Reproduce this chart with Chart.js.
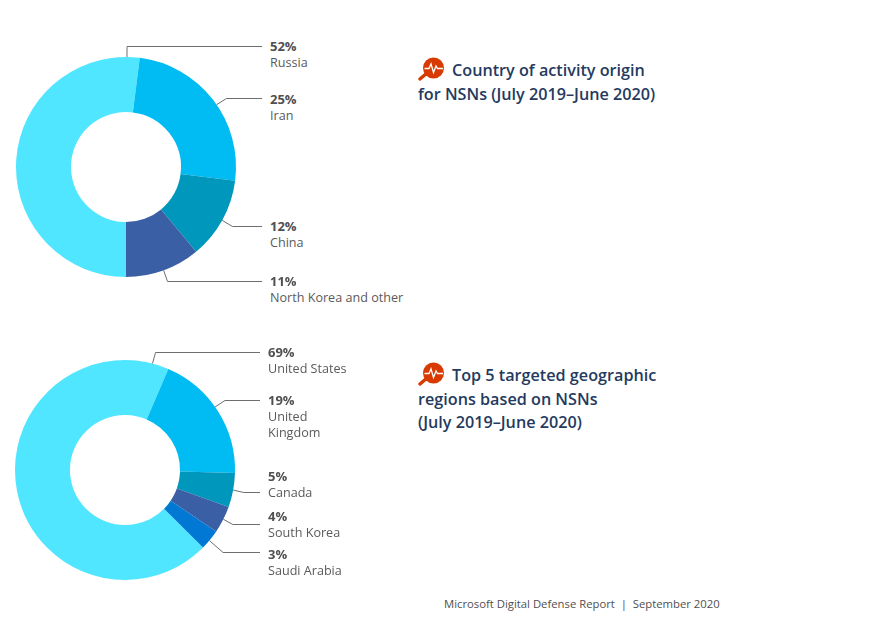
<!DOCTYPE html>
<html>
<head>
<meta charset="utf-8">
<script src="https://cdn.jsdelivr.net/npm/chart.js"></script>
<style>
  html, body { margin: 0; padding: 0; background: #fff; }
  body { position: relative; width: 869px; height: 620px; overflow: hidden; font-family: "Open Sans", sans-serif; }
  canvas { position: absolute; left: 0; }
  .lbl { position: absolute; font-size: 12.6px; line-height: 16px; color: #5a5a5a; white-space: nowrap; }
  .lbl b { position: relative; top: -1px; font-size: 13px; font-weight: 700; color: #505050; display: block; }
  .title { position: absolute; left: 418px; font-size: 16.2px; line-height: 23.5px; font-weight: 600; color: #243a5e; white-space: nowrap; }
  .title svg { vertical-align: -5px; margin-right: 4px; }
  #footer { position: absolute; left: 444px; top: 596px; font-size: 11.3px; line-height: 16px; color: #505050; white-space: nowrap; }
</style>
</head>
<body>
<canvas id="originChart" width="270" height="280" style="top:30px"></canvas>
<canvas id="targetChart" width="270" height="250" style="top:340px"></canvas>

<div class="title" style="top:57px"><svg class="ico" width="30" height="24" viewBox="0 0 30 24"></svg>Country of activity origin<br>for NSNs (July 2019–June 2020)</div>
<div class="title" style="top:362px"><svg class="ico" width="30" height="24" viewBox="0 0 30 24"></svg>Top 5 targeted geographic<br>regions based on NSNs<br>(July 2019–June 2020)</div>
<div id="footer">Microsoft Digital Defense Report&nbsp; |&nbsp; September 2020</div>

<script>
const originLabels = ['Russia', 'Iran', 'China', 'North Korea and other'];
const originValues = [52, 25, 12, 11];
const targetLabels = ['United States', 'United Kingdom', 'Canada', 'South Korea', 'Saudi Arabia'];
const targetValues = [69, 19, 5, 4, 3];
const sliceColors = ['#50e6ff', '#00bcf2', '#0097bd', '#3b5fa5', '#0078d4'];

// leader lines: where they leave the ring (deg from 12 o'clock), page y of the horizontal run, x where it stops
const originLeaders = { angles: [0.5, 55.5, 119, 160], lineY: [46, 98, 226, 281], endX: 262 };
const targetLeaders = { angles: [14.5, 55, 100.5, 116.6, 129.9], lineY: [352, 400, 492, 524, 552], endX: 260 };

// page y of the first text row of each label
const originLabelY = [39, 92, 219, 274];
const targetLabelY = [345, 393, 469, 509, 547];

const leaderPlugin = {
  id: 'leaders',
  afterDraw(chart, args, opts) {
    const ctx = chart.ctx;
    const arcs = chart.getDatasetMeta(0).data;
    const top = parseInt(chart.canvas.style.top);
    ctx.save();
    ctx.strokeStyle = '#6e6e6e';
    ctx.lineWidth = 1;
    arcs.forEach((arc, i) => {
      const a = opts.angles[i] * Math.PI / 180;
      const r = arc.outerRadius;
      const x0 = arc.x + r * Math.sin(a);
      const y0 = arc.y - r * Math.cos(a);
      const y1 = opts.lineY[i] - top;
      const x1 = arc.x + (arc.y - y1) * Math.tan(a);
      ctx.beginPath();
      ctx.moveTo(x0, y0);
      ctx.lineTo(x1, y1 + 0.5);
      ctx.lineTo(opts.endX, y1 + 0.5);
      ctx.stroke();
    });
    ctx.restore();
  }
};

function makeDonut(id, labels, values, rotation, padding, leaders) {
  return new Chart(document.getElementById(id), {
    type: 'doughnut',
    data: {
      labels: labels,
      datasets: [{
        data: values,
        backgroundColor: sliceColors.slice(0, values.length),
        borderWidth: 0
      }]
    },
    options: {
      responsive: false,
      animation: false,
      rotation: rotation,
      cutout: '50%',
      layout: { padding: padding },
      plugins: {
        legend: { display: false },
        tooltip: { enabled: false },
        leaders: leaders
      }
    },
    plugins: [leaderPlugin]
  });
}

makeDonut('originChart', originLabels, originValues, 180, { left: 16, right: 34, top: 27, bottom: 33 }, originLeaders);
makeDonut('targetChart', targetLabels, targetValues, 134.8, { left: 15, right: 35, top: 20, bottom: 10 }, targetLeaders);

function addLabels(labels, values, x, ys) {
  labels.forEach((name, i) => {
    const d = document.createElement('div');
    d.className = 'lbl';
    d.style.left = x + 'px';
    d.style.top = ys[i] + 'px';
    const shown = name === 'United Kingdom' ? 'United<br>Kingdom' : name;
    d.innerHTML = `<b>${values[i]}%</b>${shown}`;
    document.body.appendChild(d);
  });
}
addLabels(originLabels, originValues, 270, originLabelY);
addLabels(targetLabels, targetValues, 268, targetLabelY);

// magnifier icon next to the titles
document.querySelectorAll('.ico').forEach((svg) => {
  svg.innerHTML = `
    <line x1="2" y1="22" x2="9" y2="16" stroke="#d83b01" stroke-width="3.4" stroke-linecap="round"/>
    <circle cx="15.5" cy="11" r="10.5" fill="#d83b01"/>
    <polyline points="6.5,11.5 11,11.5 13,7 15.5,15.5 18,9 19.5,11.5 25,11.5" fill="none" stroke="#fff" stroke-width="1.3"/>`;
});
</script>
</body>
</html>
